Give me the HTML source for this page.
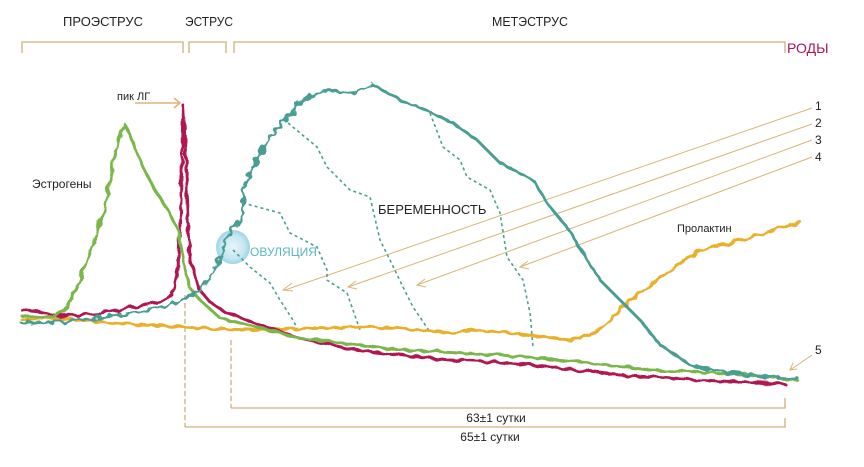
<!DOCTYPE html>
<html><head><meta charset="utf-8"><style>
html,body{margin:0;padding:0;background:#fff;width:864px;height:467px;overflow:hidden}
svg{display:block}
text{font-family:"Liberation Sans",sans-serif}
</style></head><body>
<svg width="864" height="467" viewBox="0 0 864 467" xmlns="http://www.w3.org/2000/svg">
<defs>
<radialGradient id="ov" cx="50%" cy="50%" r="50%">
<stop offset="0" stop-color="#e6f5fb"/><stop offset="0.7" stop-color="#bfe3f0"/><stop offset="1" stop-color="#8fcfe4"/>
</radialGradient>
<filter id="wig" x="-5%" y="-5%" width="110%" height="110%">
<feTurbulence type="fractalNoise" baseFrequency="0.12" numOctaves="1" seed="3"/>
<feDisplacementMap in="SourceGraphic" scale="6"/>
</filter>
<filter id="wig2" x="-5%" y="-5%" width="110%" height="110%">
<feTurbulence type="fractalNoise" baseFrequency="0.16" numOctaves="1" seed="7"/>
<feDisplacementMap in="SourceGraphic" scale="9"/>
</filter>
</defs>
<g fill="none" stroke="#cdb07a" stroke-width="1.3">
<path d="M22,53 V42 H183 V53"/>
<path d="M189,53 V42 H226 V53"/>
<path d="M234,53 V42 H785 V53"/>
<path d="M231,408 H785 V398"/>
<path d="M185,427 H785 V418"/>
<path d="M185,295 V427" stroke-dasharray="5,3"/>
<path d="M231,340 V408" stroke-dasharray="5,3"/>
</g>
<g font-size="13" fill="#222">
<text x="103" y="26" text-anchor="middle" textLength="80" lengthAdjust="spacingAndGlyphs">ПРОЭСТРУС</text>
<text x="209" y="26" text-anchor="middle" textLength="48" lengthAdjust="spacingAndGlyphs">ЭСТРУС</text>
<text x="530" y="26" text-anchor="middle" textLength="76" lengthAdjust="spacingAndGlyphs">МЕТЭСТРУС</text>
</g>
<text x="787" y="53" font-size="14" fill="#b0145a">РОДЫ</text>
<text x="496" y="422" font-size="12" fill="#222" text-anchor="middle">63±1 сутки</text>
<text x="490" y="441" font-size="12" fill="#222" text-anchor="middle">65±1 сутки</text>

<circle cx="233" cy="247" r="17" fill="url(#ov)" opacity="0.9"/>

<g stroke="#d8b578" stroke-width="1" fill="none">
<path d="M812,108 L285,290 M292,283 L283,290 L293,291"/>
<path d="M812,124 L348,287 M356,281 L348,287 L357,289"/>
<path d="M812,140 L417,285 M425,279 L417,285 L426,287"/>
<path d="M812,157 L520,267 M528,261 L520,267 L529,269"/>
<path d="M812,355 L790,370 M793,363 L790,370 L797,369"/>
<path d="M135,103 L180,103 M174,98 L180,103 L174,108" stroke-width="1.5"/>
</g>
<g font-size="12" fill="#222">
<text x="815" y="110">1</text><text x="815" y="127">2</text><text x="815" y="144">3</text><text x="815" y="161">4</text>
<text x="815" y="354">5</text>
<text x="117" y="100" font-size="11">пик ЛГ</text>
<text x="32" y="188">Эстрогены</text>
<text x="378" y="214" font-size="13">БЕРЕМЕННОСТЬ</text>
<text x="677" y="232" font-size="11">Пролактин</text>
</g>
<text x="250" y="256" font-size="12" fill="#5ab6c8">ОВУЛЯЦИЯ</text>

<g fill="none" stroke="#4a9e93" stroke-width="1.6" stroke-dasharray="3,3">
<path d="M233,250 L250,267 L270,283 L280,300 L293,320 L298,330"/>
<path d="M243,203 L280,213 L290,233 L317,247 L327,270 L327,280 L347,293 L360,330"/>
<path d="M288,123 L317,147 L327,167 L350,190 L370,197 L380,240 L390,260 L403,287 L413,307 L430,332"/>
<path d="M430,113 L443,147 L460,160 L467,177 L490,190 L500,213 L507,257 L523,280 L530,313 L533,347"/>
</g>

<g fill="none" stroke-width="3" stroke-linejoin="round" stroke-linecap="round" filter="url(#wig)">
<path stroke="#e8b02a" d="M22,320 L60,318 L100,322 L150,325 L200,328 L250,330 L300,329 L350,327 L400,328 L450,333 L480,330 L520,334 L570,340 L595,333 L612,318 L625,305 L650,285 L668,272 L685,260 L700,250 L720,245 L740,240 L770,232 L800,222"/>
<path stroke="#b0144f" d="M22,310 L40,312 L60,316 L100,313 L140,306 L160,302 L172,295 L178,270 L181,200 L183,105 L185,140 L187,200 L190,258 L198,288 L210,302 L225,312 L260,325 L300,338 L350,349 L400,355 L450,360 L500,362 L560,368 L620,375 L680,379 L740,382 L785,384"/>
<path stroke="#7ab648" d="M22,316 L45,318 L65,312 L80,280 L92,245 L103,215 L112,170 L119,138 L125,125 L132,140 L142,165 L155,190 L168,210 L178,230 L184,262 L190,288 L200,300 L220,318 L260,328 L300,338 L350,344 L400,350 L450,352 L500,355 L540,358 L600,364 L650,370 L700,372 L750,375 L797,380"/>
</g>
<path filter="url(#wig2)" fill="none" stroke="#4a9e93" stroke-width="3" stroke-linejoin="round" stroke-linecap="round" d="M22,323 L60,322 L100,318 L150,310 L180,302 L203,287 L218,262 L230,233 L243,213 L243,190 L253,167 L267,140 L287,117 L303,100 L327,90 L357,93 L373,85 L400,100 L430,112 L453,123 L477,140 L500,163 L533,180 L550,207 L567,227 L583,253 L600,280 L620,300 L640,320 L660,345 L690,365 L720,372 L760,376 L797,378"/>
</svg>
</body></html>
